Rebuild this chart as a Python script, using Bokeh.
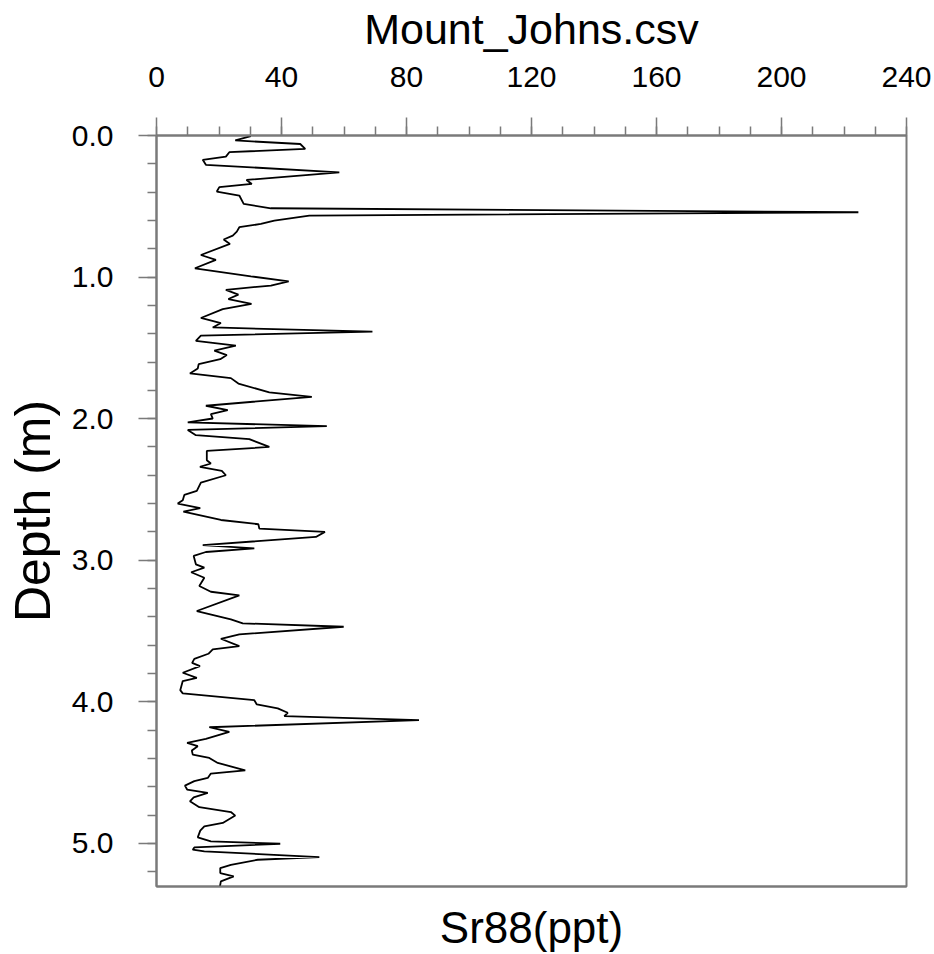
from bokeh.plotting import figure
from bokeh.models import Range1d, FixedTicker, LinearAxis, PrintfTickFormatter
from bokeh.embed import file_html
from bokeh.resources import INLINE

depth = [0.005, 0.035, 0.06, 0.094, 0.118, 0.149, 0.172, 0.207, 0.26, 0.314,
         0.342, 0.365, 0.396, 0.424, 0.483, 0.514, 0.542, 0.566, 0.601, 0.625,
         0.648, 0.679, 0.707, 0.735, 0.766, 0.844, 0.879, 0.938, 0.995, 1.03,
         1.06, 1.09, 1.124, 1.155, 1.19, 1.226, 1.289, 1.325, 1.356, 1.386,
         1.414, 1.45, 1.485, 1.52, 1.551, 1.58, 1.615, 1.646, 1.681, 1.714,
         1.752, 1.815, 1.846, 1.909, 1.94, 1.968, 1.999, 2.027, 2.053, 2.08,
         2.117, 2.145, 2.2, 2.228, 2.294, 2.317, 2.341, 2.369, 2.4, 2.452,
         2.511, 2.539, 2.576, 2.6, 2.633, 2.657, 2.716, 2.746, 2.777, 2.8,
         2.836, 2.893, 2.916, 2.942, 2.97, 3.029, 3.053, 3.085, 3.124, 3.182,
         3.223, 3.248, 3.359, 3.418, 3.446, 3.47, 3.524, 3.555, 3.607, 3.63,
         3.661, 3.697, 3.725, 3.748, 3.795, 3.831, 3.854, 3.918, 3.941, 3.989,
         4.019, 4.047, 4.078, 4.102, 4.13, 4.18, 4.213, 4.262, 4.29, 4.314,
         4.345, 4.373, 4.397, 4.432, 4.484, 4.507, 4.538, 4.561, 4.592, 4.62,
         4.644, 4.675, 4.703, 4.745, 4.779, 4.804, 4.856, 4.88, 4.91, 4.958,
         4.986, 5.003, 5.029, 5.045, 5.057, 5.097, 5.116, 5.152, 5.175, 5.21,
         5.233, 5.269, 5.304]

sr88 = [30.2, 25.2, 46.0, 47.6, 23.3, 22.2, 14.8, 15.8, 58.5, 28.8,
        30.5, 20.1, 19.3, 26.5, 27.9, 36.6, 224.6, 48.9, 37.7, 33.4,
        26.5, 25.7, 24.4, 21.5, 23.5, 14.2, 19.0, 12.3, 30.2, 42.3,
        36.6, 22.2, 26.2, 23.0, 30.4, 21.2, 14.2, 20.6, 18.0, 69.1,
        14.2, 12.6, 25.4, 18.5, 22.5, 20.4, 13.5, 13.2, 10.7, 23.8,
        26.2, 36.1, 49.7, 15.8, 22.8, 17.4, 18.0, 10.0, 54.5, 10.0,
        12.6, 29.7, 36.1, 16.1, 16.1, 17.4, 13.9, 20.9, 22.2, 14.2,
        12.9, 8.9, 8.4, 6.8, 14.0, 8.6, 20.6, 32.6, 32.9, 53.9,
        51.0, 14.8, 31.3, 15.8, 11.9, 12.6, 15.3, 11.1, 15.3, 13.7,
        17.4, 26.5, 12.9, 23.8, 27.6, 59.9, 26.5, 20.6, 26.5, 18.0,
        16.6, 12.1, 11.4, 13.9, 8.4, 12.9, 8.4, 7.6, 8.4, 31.3,
        32.1, 38.8, 42.0, 40.9, 84.0, 16.9, 23.3, 15.8, 9.8, 13.2,
        11.3, 11.6, 16.9, 19.6, 28.4, 17.4, 16.4, 12.1, 9.1, 9.8,
        16.4, 11.9, 10.7, 13.7, 23.8, 25.2, 21.2, 15.3, 14.0, 13.2,
        17.4, 39.6, 12.1, 11.6, 15.3, 52.1, 32.4, 23.8, 20.4, 20.4,
        24.7, 20.6, 20.3]

x_major = [0, 40, 80, 120, 160, 200, 240]
x_minor = list(range(0, 241, 10))
y_major = [0, 1, 2, 3, 4, 5]
y_minor = [i / 5 for i in range(0, 27)]

title_text = "Mount_Johns.csv"
x_label = "Sr88(ppt)"
y_label = "Depth (m)"

FONT = "Liberation Sans"
GRAY = "#7a7a7a"

p = figure(width=934, height=954,
           x_range=Range1d(0, 240), y_range=Range1d(5.305, 0),
           x_axis_location="above",
           output_backend="svg", toolbar_location=None,
           min_border_left=156, min_border_right=28,
           min_border_top=135, min_border_bottom=68)

p.grid.visible = False
p.outline_line_color = GRAY
p.outline_line_width = 2
p.outline_line_alpha = 1
p.background_fill_color = "white"
p.border_fill_color = "white"

# top axis carries the chart title as its label (sits flush at the top)
xa = p.xaxis[0]
xa.ticker = FixedTicker(ticks=x_major, minor_ticks=x_minor)
xa.major_tick_out = 18
xa.major_tick_in = 0
xa.minor_tick_out = 9
xa.minor_tick_in = 0
xa.axis_line_color = GRAY
xa.axis_line_width = 2
xa.major_tick_line_color = GRAY
xa.major_tick_line_width = 1.5
xa.minor_tick_line_color = GRAY
xa.minor_tick_line_width = 1.5
xa.major_label_text_font = FONT
xa.major_label_text_font_size = "30px"
xa.major_label_text_color = "black"
xa.major_label_standoff = 31
xa.axis_label = title_text
xa.axis_label_text_font = FONT
xa.axis_label_text_font_size = "43px"
xa.axis_label_text_font_style = "normal"
xa.axis_label_text_color = "black"
xa.axis_label_standoff = 11

ya = p.yaxis[0]
ya.ticker = FixedTicker(ticks=y_major, minor_ticks=y_minor)
ya.formatter = PrintfTickFormatter(format="%.1f")
ya.major_tick_out = 18
ya.major_tick_in = 0
ya.minor_tick_out = 9
ya.minor_tick_in = 0
ya.axis_line_color = GRAY
ya.axis_line_width = 2
ya.major_tick_line_color = GRAY
ya.major_tick_line_width = 1.5
ya.minor_tick_line_color = GRAY
ya.minor_tick_line_width = 1.5
ya.major_label_text_font = FONT
ya.major_label_text_font_size = "30px"
ya.major_label_text_color = "black"
ya.major_label_standoff = 25
ya.axis_label = y_label
ya.axis_label_text_font = FONT
ya.axis_label_text_font_size = "50px"
ya.axis_label_text_font_style = "normal"
ya.axis_label_text_color = "black"
ya.axis_label_standoff = 8

bx = LinearAxis(ticker=FixedTicker(ticks=[]), axis_label=x_label)
bx.axis_line_color = GRAY
bx.axis_line_width = 2
bx.major_tick_line_color = None
bx.minor_tick_line_color = None
bx.axis_label_text_font = FONT
bx.axis_label_text_font_size = "44px"
bx.axis_label_text_font_style = "normal"
bx.axis_label_text_color = "black"
bx.axis_label_standoff = 16
p.add_layout(bx, "below")

p.line(x=sr88, y=depth, line_color="black", line_width=1.8)

open("out.html", "w").write(file_html(p, INLINE))
